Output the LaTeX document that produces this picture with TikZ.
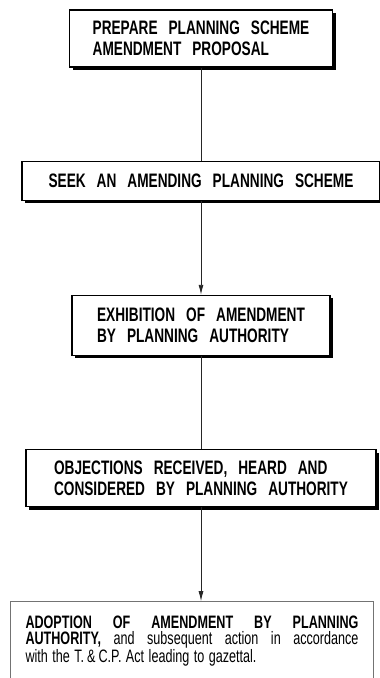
\documentclass[tikz,border=0pt]{standalone}
\usepackage{fontspec}
\setmainfont{Liberation Sans}[FakeStretch=0.7]
\usetikzlibrary{positioning,arrows.meta,shadows}

\newcommand{\boxfont}{\fontsize{19.5}{21}\selectfont\bfseries\spaceskip=11pt plus 2pt minus 1pt\relax}
\newcommand{\notefont}{\fontsize{18}{16.5}\selectfont\spaceskip=4.5pt plus 10pt minus 1pt\relax}

\begin{document}
\begin{tikzpicture}[node distance=93pt, >={Latex[length=10pt,width=5pt]},
 stepbox/.style = {draw, line width=1.2pt, fill=white, inner sep=0pt, align=left, font=\boxfont,
                   drop shadow={shadow xshift=3pt, shadow yshift=-3pt, fill=black, opacity=1}},
 lastbox/.style = {draw=black!55, line width=0.8pt, text width=333pt, inner xsep=15pt,
                   minimum height=79pt, align=justify, font=\notefont},
 link/.style = {draw, line width=0.9pt, black!85},
                        ]
    \useasboundingbox (0,0) rectangle (380pt,-678pt);

    \node [stepbox, minimum width=263pt, minimum height=57pt] at (201pt,-38.5pt) (prepare)
          {PREPARE PLANNING SCHEME\\ AMENDMENT PROPOSAL};
    \node [stepbox, minimum width=358pt, minimum height=39pt, below=of prepare] (seek)
          {SEEK AN AMENDING PLANNING SCHEME};
    \node [stepbox, minimum width=258pt, minimum height=60pt, below=94pt of seek] (exhibit)
          {EXHIBITION OF AMENDMENT\\ BY PLANNING AUTHORITY};
    \node [stepbox, minimum width=350pt, minimum height=57pt, below=of exhibit] (objection)
          {OBJECTIONS RECEIVED, HEARD AND\\ CONSIDERED BY PLANNING AUTHORITY};
    \node [lastbox, below=94pt of objection, xshift=-9pt] (adopt)
          {\bfseries ADOPTION OF AMENDMENT BY PLANNING\linebreak
           AUTHORITY, \mdseries and subsequent action in accordance\linebreak
           with the T.\,\&\,C.P. Act leading to gazettal.};

%% paths
    \path[link]    (prepare.south)   -- (prepare.south |- seek.north);
    \path[link,->] (seek.south)      -- (seek.south |- exhibit.north);
    \path[link]    (exhibit.south)   -- (exhibit.south |- objection.north);
    \path[link,->] (objection.south) -- (objection.south |- adopt.north);
    \end{tikzpicture}
\end{document}
